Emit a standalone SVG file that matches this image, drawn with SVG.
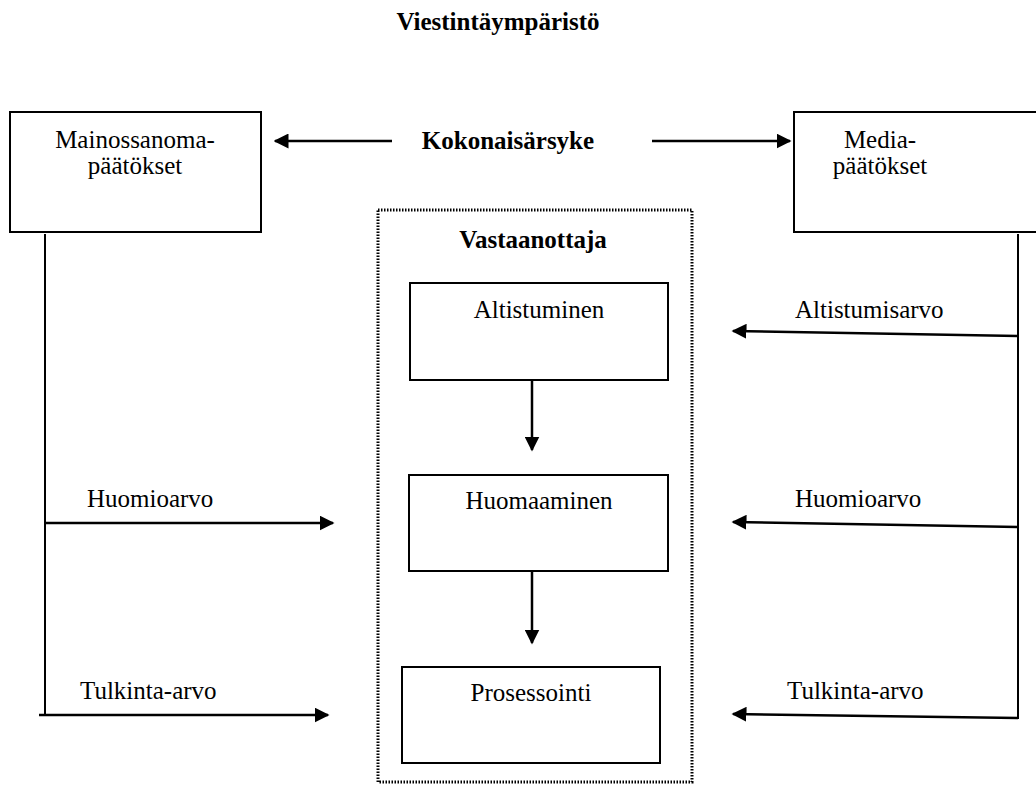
<svg xmlns="http://www.w3.org/2000/svg" width="1036" height="785" viewBox="0 0 1036 785">
<style>
text{font-family:"Liberation Serif","Times New Roman",serif;font-size:25px;fill:#000}
.b{font-weight:bold}
.c{text-anchor:middle}
.box{fill:#fff;stroke:#000;stroke-width:2}
.ln{stroke:#000;stroke-width:2;fill:none}
.ar{stroke:#000;stroke-width:2.5;fill:none;marker-end:url(#ah)}
</style>
<defs>
<marker id="ah" viewBox="0 0 10 10" refX="9" refY="5" markerWidth="6" markerHeight="6" markerUnits="strokeWidth" orient="auto">
<path d="M0,0 L10,5 L0,10 z" fill="#000"/>
</marker>
</defs>
<rect width="1036" height="785" fill="#fff"/>
<text class="b c" x="498" y="30">Viestintäympäristö</text>
<g id="mainos">
<rect class="box" x="10" y="112" width="251" height="120"/>
<text class="c" x="135" y="148">Mainossanoma-</text>
<text class="c" x="135" y="174">päätökset</text>
</g>
<g id="media">
<rect class="box" x="794" y="112" width="250" height="120"/>
<text class="c" x="880" y="148">Media-</text>
<text class="c" x="880" y="174">päätökset</text>
</g>
<g id="koko">
<text class="b c" x="508" y="149">Kokonaisärsyke</text>
</g>
<g id="vastaanottaja">
<rect x="378" y="210" width="314" height="572" fill="none" stroke="#000" stroke-width="3" stroke-dasharray="1.5 1.5"/>
<text class="b c" x="533" y="248">Vastaanottaja</text>
</g>
<g id="altistuminen">
<rect class="box" x="410" y="283" width="258" height="97"/>
<text class="c" x="539" y="318">Altistuminen</text>
</g>
<g id="huomaaminen">
<rect class="box" x="409" y="475" width="259" height="96"/>
<text class="c" x="539" y="509">Huomaaminen</text>
</g>
<g id="prosessointi">
<rect class="box" x="402" y="667" width="258" height="96"/>
<text class="c" x="531" y="701">Prosessointi</text>
</g>
<g id="labels">
<text x="87" y="507">Huomioarvo</text>
<text x="80" y="699">Tulkinta-arvo</text>
<text x="795" y="318">Altistumisarvo</text>
<text x="795" y="507">Huomioarvo</text>
<text x="787" y="699">Tulkinta-arvo</text>
</g>
<g id="connectors">
<line class="ar" x1="392" y1="141" x2="275" y2="141"/>
<line class="ar" x1="652" y1="141" x2="790" y2="141"/>
<line class="ar" x1="532" y1="380" x2="532" y2="450"/>
<line class="ar" x1="532" y1="571" x2="532" y2="643"/>
<line class="ln" x1="45" y1="234" x2="45" y2="716"/>
<line class="ar" x1="45" y1="523" x2="333" y2="523"/>
<line class="ar" x1="39" y1="715" x2="328" y2="715"/>
<line class="ln" x1="1018" y1="234" x2="1018" y2="719"/>
<line class="ar" x1="1018" y1="336" x2="733" y2="331"/>
<line class="ar" x1="1018" y1="527" x2="733" y2="522"/>
<line class="ar" x1="1018" y1="718" x2="733" y2="714"/>
</g>
</svg>
